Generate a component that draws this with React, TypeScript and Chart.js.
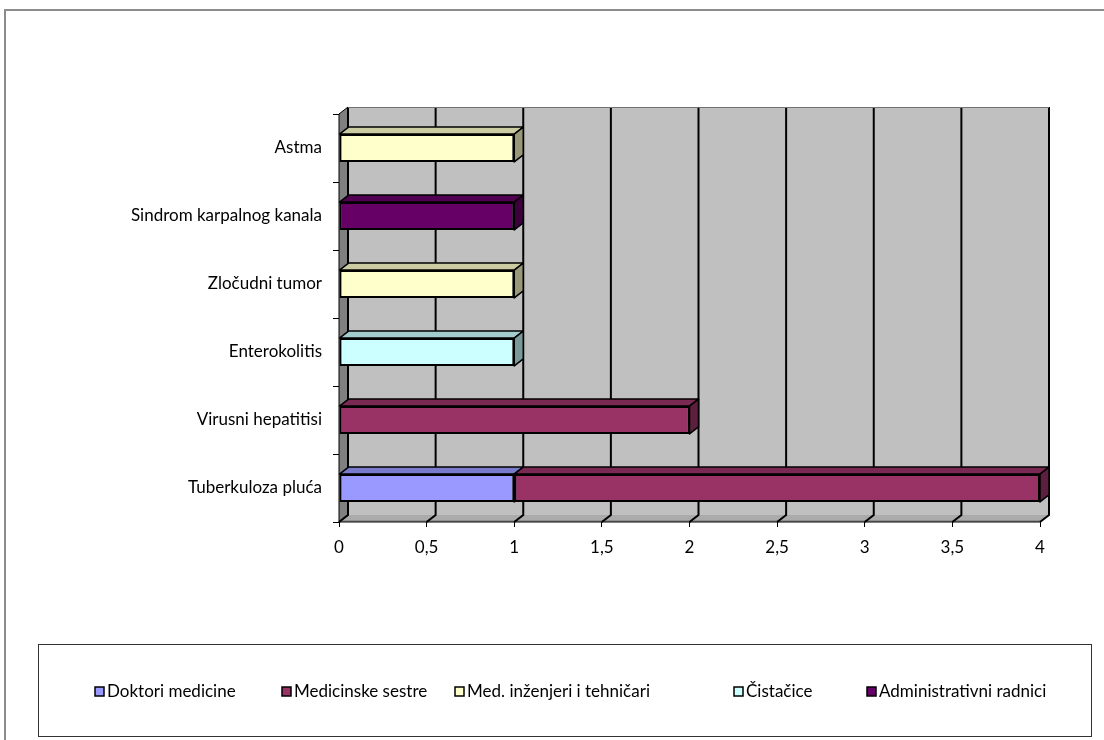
import React, { useEffect, useRef } from 'react';
import { Chart, registerables } from 'chart.js';

Chart.register(...registerables);

// ---- data ----
const categories = [
  'Tuberkuloza pluća',
  'Virusni hepatitisi',
  'Enterokolitis',
  'Zločudni tumor',
  'Sindrom karpalnog kanala',
  'Astma',
];
const seriesNames = [
  'Doktori medicine',
  'Medicinske sestre',
  'Med. inženjeri i tehničari',
  'Čistačice',
  'Administrativni radnici',
];
const doktori = [1, null, null, null, null, null];
const sestre = [3, 2, null, null, null, null];
const inzenjeri = [null, null, null, 1, null, 1];
const cistacice = [null, null, 1, null, null, null];
const administrativni = [null, null, null, null, 1, null];
const seriesValues = [doktori, sestre, inzenjeri, cistacice, administrativni];
const seriesColors = ['#9999FF', '#993366', '#FFFFCC', '#CCFFFF', '#660066'];
const xTickLabels = ['0', '0,5', '1', '1,5', '2', '2,5', '3', '3,5', '4'];

// ---- layout / style ----
const W = 1104;
const H = 740;
const DX = 9;
const DY = 7;
const FONT_FAMILY = 'Lato, "Open Sans", sans-serif';
const FONT_SIZE = 17;
const LEGEND_BOX = { x: 38.5, y: 644.5, w: 1053, h: 92 };
const LEGEND_ITEM_X = [95, 282, 455, 734, 867];
const LEGEND_Y = 691;

function shade(hex: string, f: number): string {
  const n = parseInt(hex.slice(1), 16);
  const r = Math.round(((n >> 16) & 255) * f);
  const g = Math.round(((n >> 8) & 255) * f);
  const b = Math.round((n & 255) * f);
  return `rgb(${r},${g},${b})`;
}

const threeDPlugin = {
  id: 'threeD',
  beforeDraw(chart: any) {
    const { ctx, width, height } = chart;
    ctx.save();
    ctx.fillStyle = '#ffffff';
    ctx.fillRect(0, 0, width, height);
    ctx.fillStyle = '#8c8c8c';
    ctx.fillRect(4, 9, 2, height - 9);
    ctx.fillRect(4, 9, width - 4, 2);
    ctx.restore();
  },
  beforeDatasetsDraw(chart: any) {
    const { ctx, chartArea, scales } = chart;
    const { left, right, top, bottom } = chartArea;
    const x = scales.x;
    ctx.save();
    // back wall
    ctx.fillStyle = '#C0C0C0';
    ctx.fillRect(left + DX, top - DY, right - left, bottom - top);
    // left wall
    ctx.fillStyle = '#808080';
    ctx.beginPath();
    ctx.moveTo(left, top);
    ctx.lineTo(left + DX, top - DY);
    ctx.lineTo(left + DX, bottom - DY);
    ctx.lineTo(left, bottom);
    ctx.closePath();
    ctx.fill();
    // floor
    ctx.fillStyle = '#ABABAB';
    ctx.beginPath();
    ctx.moveTo(left, bottom);
    ctx.lineTo(left + DX, bottom - DY);
    ctx.lineTo(right + DX, bottom - DY);
    ctx.lineTo(right, bottom);
    ctx.closePath();
    ctx.fill();
    ctx.fillStyle = '#8f8f8f';
    ctx.fillRect(left, bottom - 2, right - left, 2);
    // gridlines (back wall + floor)
    ctx.strokeStyle = '#000';
    ctx.lineWidth = 2;
    x.ticks.forEach((t: any) => {
      const px = x.getPixelForValue(t.value);
      ctx.beginPath();
      ctx.moveTo(px + DX, top - DY);
      ctx.lineTo(px + DX, bottom - DY);
      ctx.lineTo(px, bottom);
      ctx.stroke();
    });
    // wall edges
    ctx.lineWidth = 1;
    ctx.strokeStyle = '#000';
    ctx.beginPath();
    ctx.moveTo(left + DX, top - DY);
    ctx.lineTo(left, top);
    ctx.lineTo(left, bottom);
    ctx.lineTo(right, bottom);
    ctx.stroke();
    ctx.strokeStyle = '#707070';
    ctx.beginPath();
    ctx.moveTo(left + DX, top - DY + 0.5);
    ctx.lineTo(right + DX, top - DY + 0.5);
    ctx.stroke();

    // bar 3D faces
    ctx.lineWidth = 1.5;
    ctx.strokeStyle = '#000';
    ctx.lineJoin = 'round';
    chart.data.datasets.forEach((ds: any, di: number) => {
      const meta = chart.getDatasetMeta(di);
      if (meta.hidden) return;
      meta.data.forEach((el: any, i: number) => {
        const v = ds.data[i];
        if (v == null) return;
        const p = el.getProps(['x', 'y', 'base', 'height'], true);
        const l = Math.min(p.base, p.x);
        const r = Math.max(p.base, p.x);
        const t = p.y - p.height / 2;
        const b = p.y + p.height / 2;
        const c = ds.backgroundColor as string;
        // top face
        ctx.fillStyle = shade(c, 0.8);
        ctx.beginPath();
        ctx.moveTo(l, t);
        ctx.lineTo(l + DX, t - DY);
        ctx.lineTo(r + DX, t - DY);
        ctx.lineTo(r, t);
        ctx.closePath();
        ctx.fill();
        ctx.stroke();
        // side face
        ctx.fillStyle = shade(c, 0.6);
        ctx.beginPath();
        ctx.moveTo(r, t);
        ctx.lineTo(r + DX, t - DY);
        ctx.lineTo(r + DX, b - DY);
        ctx.lineTo(r, b);
        ctx.closePath();
        ctx.fill();
        ctx.stroke();
      });
    });
    ctx.restore();
  },
  afterDraw(chart: any) {
    const { ctx } = chart;
    ctx.save();
    ctx.strokeStyle = '#333';
    ctx.lineWidth = 1;
    ctx.strokeRect(LEGEND_BOX.x, LEGEND_BOX.y, LEGEND_BOX.w, LEGEND_BOX.h);
    ctx.font = `${FONT_SIZE}px ${FONT_FAMILY}`;
    ctx.textBaseline = 'middle';
    ctx.textAlign = 'left';
    chart.data.datasets.forEach((ds: any, i: number) => {
      const x0 = LEGEND_ITEM_X[i];
      ctx.fillStyle = ds.backgroundColor;
      ctx.fillRect(x0, LEGEND_Y - 4, 9, 9);
      ctx.strokeStyle = '#000';
      ctx.lineWidth = 1.5;
      ctx.strokeRect(x0, LEGEND_Y - 4, 9, 9);
      ctx.fillStyle = '#000';
      ctx.fillText(ds.label, x0 + 12, LEGEND_Y + 1);
    });
    ctx.restore();
  },
};

export default function App() {
  const ref = useRef<HTMLCanvasElement | null>(null);
  useEffect(() => {
    if (!ref.current) return;
    const chart = new Chart(ref.current, {
      type: 'bar',
      data: {
        labels: categories,
        datasets: seriesNames.map((name, i) => ({
          label: name,
          data: seriesValues[i],
          backgroundColor: seriesColors[i],
          borderColor: '#000',
          borderWidth: 2,
          borderSkipped: false,
          categoryPercentage: 0.41,
          barPercentage: 1,
        })),
      },
      options: {
        indexAxis: 'y',
        responsive: false,
        animation: false,
        devicePixelRatio: 1,
        layout: { padding: { left: 0, top: 114, right: 64, bottom: 178 } },
        plugins: {
          legend: { display: false },
          tooltip: { enabled: false },
        },
        scales: {
          x: {
            type: 'linear',
            stacked: true,
            min: 0,
            max: 4,
            grid: { drawOnChartArea: false, drawTicks: true, tickLength: 5, color: '#000' },
            border: { display: false },
            ticks: {
              stepSize: 0.5,
              autoSkip: false,
              maxRotation: 0,
              padding: 10,
              color: '#000',
              font: { family: FONT_FAMILY, size: FONT_SIZE },
              callback: (_v: any, i: number) => xTickLabels[i],
            },
            afterFit: (s: any) => {
              s.height = 40;
            },
          },
          y: {
            type: 'category',
            stacked: true,
            reverse: true,
            grid: { drawOnChartArea: false, drawTicks: true, tickLength: 6, color: '#000', offset: true },
            border: { display: false },
            ticks: {
              padding: 11,
              color: '#000',
              autoSkip: false,
              font: { family: FONT_FAMILY, size: FONT_SIZE },
            },
            afterFit: (s: any) => {
              s.width = 339;
            },
          },
        },
      },
      plugins: [threeDPlugin],
    } as any);
    return () => chart.destroy();
  }, []);
  return (
    <div style={{ position: 'absolute', left: 0, top: 0, width: W, height: H, background: '#fff' }}>
      <canvas ref={ref} width={W} height={H} style={{ display: 'block', width: W, height: H }} />
    </div>
  );
}
